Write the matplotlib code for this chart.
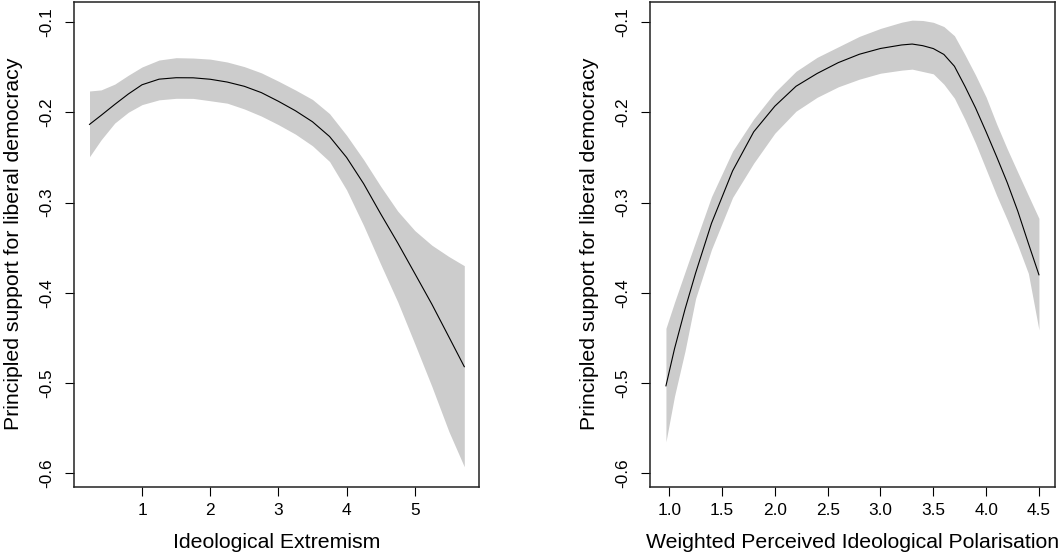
import matplotlib
matplotlib.use("Agg")
import matplotlib.pyplot as plt

plt.rcParams['font.family'] = ['Liberation Sans', 'DejaVu Sans']

# ---- Left panel: Ideological Extremism ----
ext_x = [0.23, 0.4, 0.6, 0.8, 1.0, 1.25, 1.5, 1.75, 2.0, 2.25, 2.5, 2.75, 3.0,
         3.25, 3.5, 3.75, 4.0, 4.25, 4.5, 4.75, 5.0, 5.25, 5.5, 5.726]
ext_fit = [-0.2134, -0.2034, -0.1913, -0.1797, -0.1695, -0.1633, -0.1617, -0.1618,
           -0.1634, -0.1665, -0.1712, -0.1782, -0.1878, -0.1983, -0.2105, -0.2268,
           -0.2500, -0.2791, -0.3125, -0.3447, -0.3785, -0.4125, -0.4488, -0.4818]
ext_upper = [-0.1764, -0.1752, -0.1688, -0.1589, -0.1498, -0.1421, -0.1395, -0.1399,
             -0.1411, -0.1443, -0.1494, -0.1563, -0.1655, -0.1753, -0.1858, -0.2015,
             -0.2255, -0.2525, -0.2820, -0.3095, -0.3310, -0.3472, -0.3598, -0.3699]
ext_lower = [-0.2492, -0.2305, -0.2119, -0.1999, -0.1915, -0.1862, -0.1845, -0.1846,
             -0.1872, -0.1899, -0.1963, -0.2042, -0.2137, -0.2242, -0.2371, -0.2545,
             -0.2860, -0.3255, -0.3683, -0.4100, -0.4564, -0.5036, -0.5536, -0.5926]

# ---- Right panel: Weighted Perceived Ideological Polarisation ----
pol_x = [0.969, 1.05, 1.15, 1.25, 1.4, 1.6, 1.8, 2.0, 2.2, 2.4, 2.6, 2.8, 3.0, 3.2,
         3.3, 3.4, 3.5, 3.6, 3.7, 3.8, 3.9, 4.0, 4.1, 4.2, 4.3, 4.4, 4.5]
pol_fit = [-0.503, -0.462, -0.418, -0.378, -0.323, -0.2649, -0.2216, -0.1932, -0.1712,
           -0.1570, -0.1450, -0.1357, -0.1293, -0.1254, -0.1244, -0.1262, -0.1294,
           -0.1359, -0.1490, -0.1713, -0.1952, -0.2217, -0.2493, -0.2779, -0.3096,
           -0.3452, -0.3800]
pol_upper = [-0.4393, -0.4105, -0.3767, -0.3432, -0.2935, -0.2429, -0.2073, -0.1778,
             -0.1546, -0.1391, -0.1275, -0.1159, -0.1071, -0.1002, -0.0979, -0.0983,
             -0.1003, -0.1050, -0.1152, -0.1364, -0.1588, -0.1832, -0.2131, -0.2406,
             -0.2665, -0.2921, -0.3175]
pol_lower = [-0.5650, -0.5145, -0.4642, -0.4062, -0.3520, -0.2943, -0.2563, -0.2231,
             -0.1988, -0.1834, -0.1718, -0.1633, -0.1567, -0.1533, -0.1522, -0.1548,
             -0.1574, -0.1689, -0.1844, -0.2081, -0.2343, -0.2632, -0.2922, -0.3190,
             -0.3473, -0.3785, -0.4410]

y_ticks = [-0.6, -0.5, -0.4, -0.3, -0.2, -0.1]
y_ticklabels = ['-0.6', '-0.5', '-0.4', '-0.3', '-0.2', '-0.1']
ext_ticks = [1, 2, 3, 4, 5]
ext_ticklabels = ['1', '2', '3', '4', '5']
pol_ticks = [1.0, 1.5, 2.0, 2.5, 3.0, 3.5, 4.0, 4.5]
pol_ticklabels = ['1.0', '1.5', '2.0', '2.5', '3.0', '3.5', '4.0', '4.5']

y_label = 'Principled support for liberal democracy'
ext_label = 'Ideological Extremism'
pol_label = 'Weighted Perceived Ideological Polarisation'

W, H = 1061, 556
fig = plt.figure(figsize=(W / 100, H / 100), dpi=100)

def px_axes(l, r, t, b):
    return fig.add_axes([l / W, 1 - b / H, (r - l) / W, (b - t) / H])

ax1 = px_axes(74.3, 479.3, 1.8, 486.5)
ax2 = px_axes(650.2, 1055.0, 1.8, 486.5)

ylim = (-0.6145, -0.0776)
TICK_FS = 12.4
LAB_FS = 15.3

def style(ax, x, fit, up, lo, xlim, xt, xtl, xlabel):
    ax.fill_between(x, lo, up, color='#cccccc', linewidth=0)
    ax.plot(x, fit, color='black', linewidth=0.8)
    ax.set_xlim(*xlim)
    ax.set_ylim(*ylim)
    ax.set_xticks(xt)
    ax.set_xticklabels(xtl, fontsize=TICK_FS)
    ax.set_yticks(y_ticks)
    ax.set_yticklabels(y_ticklabels, fontsize=TICK_FS, rotation=90)
    for lab in ax.get_yticklabels():
        lab.set_ha('center')
        lab.set_va('center')
    for lab in ax.get_xticklabels():
        lab.set_va('center')
    ax.tick_params(axis='y', length=6.5, width=0.8, pad=13.2, colors='black')
    ax.tick_params(axis='x', length=6.5, width=0.8, pad=10.8, colors='black')
    for s in ax.spines.values():
        s.set_linewidth(1.1)
        s.set_color('#222222')
    ax.set_xlabel(xlabel, fontsize=LAB_FS)
    ax.set_ylabel(y_label, fontsize=LAB_FS)
    ax.xaxis.label.set_va('center')
    ax.yaxis.label.set_va('center')
    ax.xaxis.set_label_coords(0.5, -(542.5 - 486.5) / 484.7)
    ax.yaxis.set_label_coords(-(74.3 - 13.5) / 404.8, 0.5)

style(ax1, ext_x, ext_fit, ext_upper, ext_lower, (0.007, 5.946),
      ext_ticks, ext_ticklabels, ext_label)
style(ax2, pol_x, pol_fit, pol_upper, pol_lower, (0.820, 4.652),
      pol_ticks, pol_ticklabels, pol_label)

fig.savefig('out.png', dpi=100, facecolor='white')
